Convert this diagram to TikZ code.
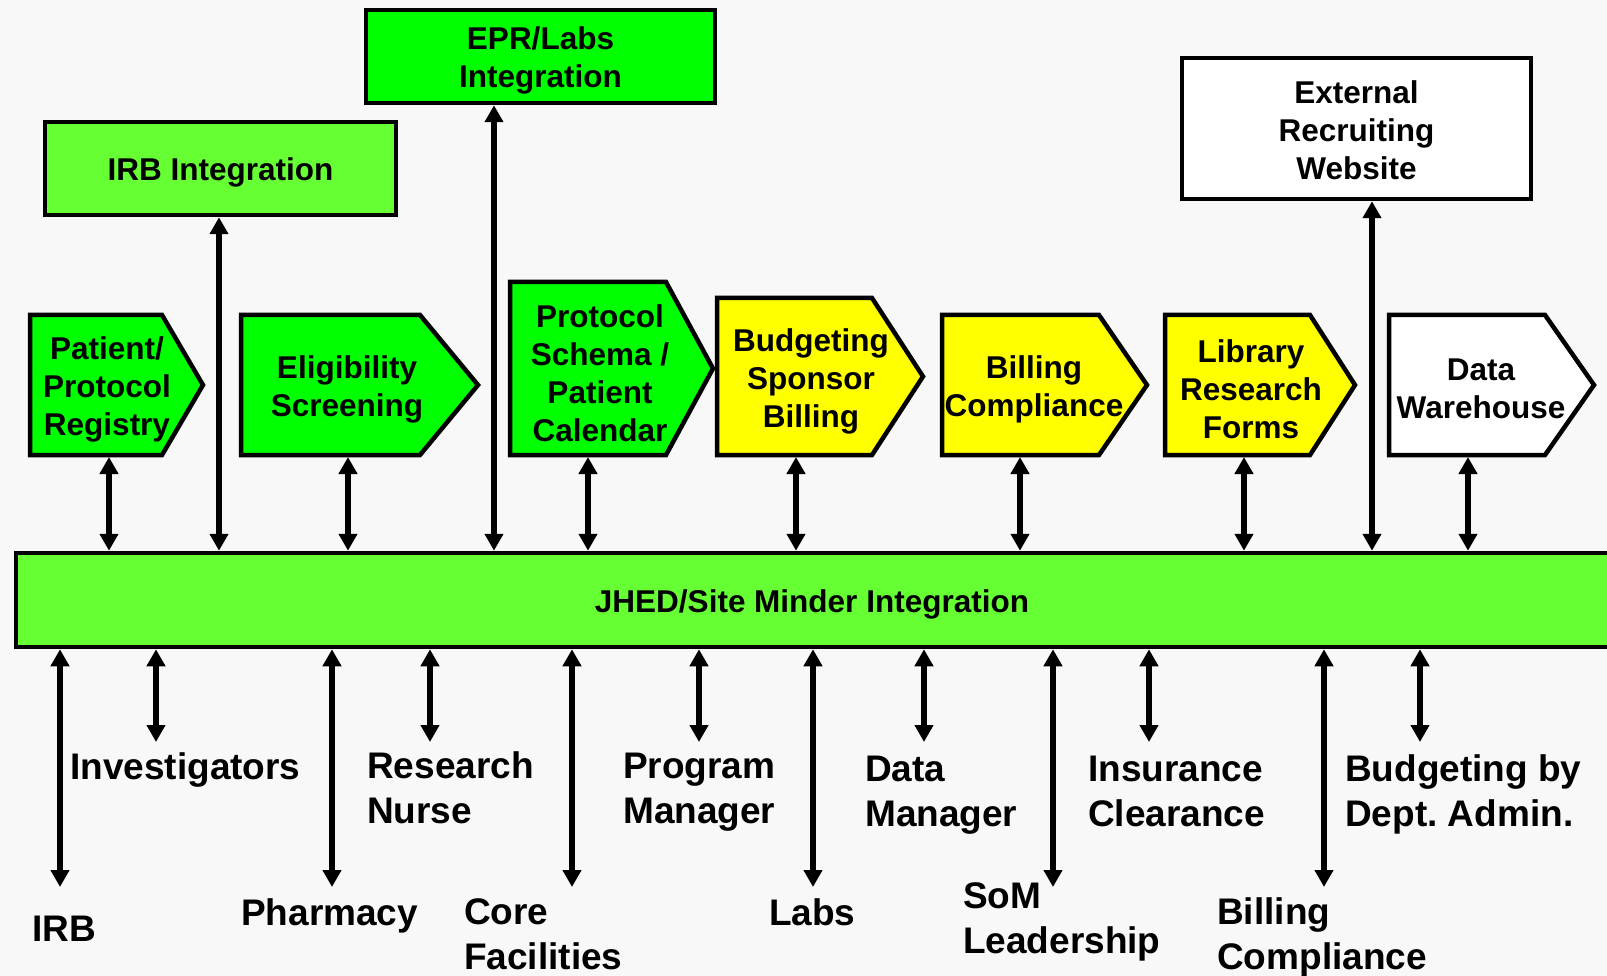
\documentclass[tikz,border=0pt]{standalone}
\usepackage{fontspec}
\setmainfont{Liberation Sans}
\usetikzlibrary{arrows.meta}
\definecolor{bg}{HTML}{F8F8F8}
\definecolor{lime}{HTML}{00FF00}
\definecolor{softlime}{HTML}{66FF33}
\definecolor{yel}{HTML}{FFFF00}
\frenchspacing

\begin{document}
\begin{tikzpicture}[x=1pt,y=-1pt,
  boxline/.style={draw=black,line width=4.5pt,line join=miter},
  boxtext/.style={font=\fontsize{31.5}{38}\selectfont\bfseries,align=center,inner sep=0pt},
  rectbox/.style={boxline,inner sep=0pt},
  tag/.style={font=\fontsize{37}{45}\selectfont\bfseries,align=left,inner sep=0pt,anchor=base west},
  link/.style={line width=5.5pt,{Triangle[width=18pt,length=17pt]}-{Triangle[width=18pt,length=17pt]}}
]
\fill[bg] (0,0) rectangle (1607,976);
\clip (0,0) rectangle (1607,976);

% integration bus
\node[rectbox,fill=softlime,minimum width=1600pt,minimum height=94pt] (bar) at (816,600) {};
\node[boxtext,yshift=-4pt] (bar-t) at (812,600) {JHED/Site Minder Integration};

% rectangular systems above the bus
\node[rectbox,fill=softlime,minimum width=351pt,minimum height=93pt] (irbint) at (220.5,168.5) {};
\node[boxtext,yshift=-4pt] (irbint-t) at (irbint) {IRB Integration};
\node[rectbox,fill=lime,minimum width=349pt,minimum height=93pt] (epr) at (540.5,56.5) {};
\node[boxtext,yshift=-4pt] (epr-t) at (epr) {EPR/Labs\\Integration};
\node[rectbox,fill=white,minimum width=349pt,minimum height=141pt] (ext) at (1356.5,128.5) {};
\node[boxtext,yshift=-2pt] (ext-t) at (ext) {External\\Recruiting\\Website};

% pentagon-shaped modules: left, top, bottom, notch x, tip x
\newcommand{\module}[9]{%
  \filldraw[boxline,fill=#7] (#2,#3) -- (#5,#3) -- (#6,{(#3+#4)/2}) -- (#5,#4) -- (#2,#4) -- cycle;
  \node[boxtext] (#1) at (#8) {#9};
}
\module{reg}{30}{315}{455}{162}{203}{lime}{107,389}{Patient/\\Protocol\\Registry}
\module{elig}{241}{315}{455}{420}{478}{lime}{347,389}{Eligibility\\Screening}
\module{proto}{510}{282}{455}{666}{713}{lime}{600,373}{Protocol\\Schema /\\Patient\\Calendar}
\module{budget}{717}{298}{455}{872}{923}{yel}{811,381}{Budgeting\\Sponsor\\Billing}
\module{billc}{942}{315}{455}{1099}{1147}{yel}{1034,389}{Billing\\Compliance}
\module{lib}{1165}{315}{455}{1310}{1355}{yel}{1251,389}{Library\\Research\\Forms}
\module{dw}{1389}{315}{455}{1545}{1594}{white}{1481,389}{Data\\Warehouse}

% lower edges of the modules where links attach
\coordinate (reg-s) at (109,457);
\coordinate (elig-s) at (348,457);
\coordinate (proto-s) at (588,457);
\coordinate (budget-s) at (796,457);
\coordinate (billc-s) at (1020,457);
\coordinate (lib-s) at (1244,457);
\coordinate (dw-s) at (1468,457);

% links between modules and the bus
\foreach \m in {reg,elig,proto,budget,billc,lib,dw}
  \draw[link] (\m-s) -- (\m-s |- bar.north);
\draw[link] (bar.north -| 219,0) -- (irbint.south -| 219,0);
\draw[link] (bar.north -| 494,0) -- (epr.south -| 494,0);
\draw[link] (bar.north -| 1372,0) -- (ext.south -| 1372,0);

% users below the bus
\coordinate (u-irb) at (60,887);
\coordinate (u-inv) at (156,742);
\coordinate (u-pha) at (332,887);
\coordinate (u-rn) at (430,742);
\coordinate (u-core) at (572,887);
\coordinate (u-pm) at (699,742);
\coordinate (u-labs) at (813,887);
\coordinate (u-dm) at (924,742);
\coordinate (u-som) at (1053,887);
\coordinate (u-ins) at (1149,742);
\coordinate (u-bc) at (1324,887);
\coordinate (u-bud) at (1420,742);
\foreach \u in {irb,inv,pha,rn,core,pm,labs,dm,som,ins,bc,bud}
  \draw[link] (bar.south -| u-\u) -- (u-\u);

% user labels (anchored at the baseline of their last line)
\node[tag] (t-irb) at (32,941) {IRB};
\node[tag] (t-inv) at (70,779) {Investigators};
\node[tag] (t-pha) at (241,925) {Pharmacy};
\node[tag] (t-rn) at (367,823) {Research\\Nurse};
\node[tag] (t-core) at (464,969) {Core\\Facilities};
\node[tag] (t-pm) at (623,823) {Program\\Manager};
\node[tag] (t-labs) at (769,925) {Labs};
\node[tag] (t-dm) at (865,826) {Data\\Manager};
\node[tag] (t-som) at (963,953) {SoM\\Leadership};
\node[tag] (t-ins) at (1088,826) {Insurance\\Clearance};
\node[tag] (t-bc) at (1217,969) {Billing\\Compliance};
\node[tag] (t-bud) at (1345,826) {Budgeting by\\Dept. Admin.};
\end{tikzpicture}
\end{document}
